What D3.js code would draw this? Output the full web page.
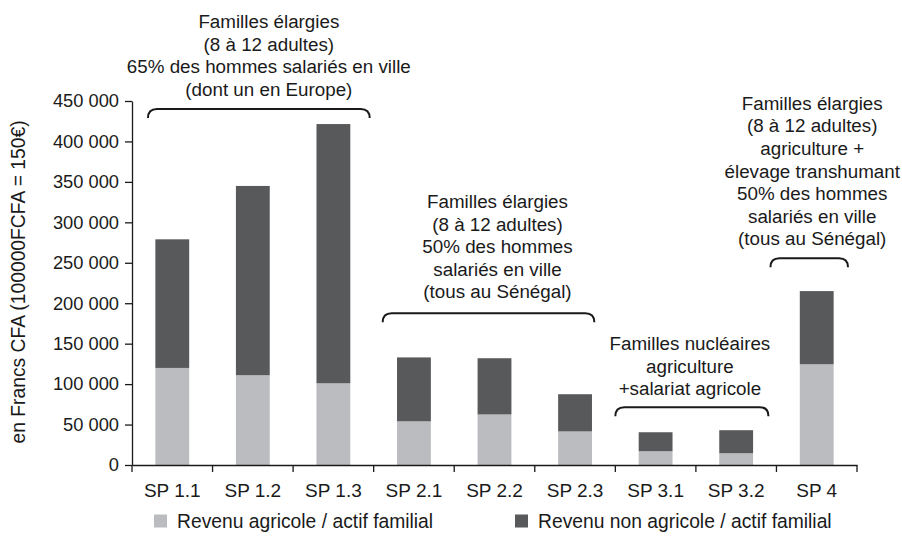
<!DOCTYPE html>
<html>
<head>
<meta charset="utf-8">
<script src="https://cdn.jsdelivr.net/npm/d3@7"></script>
<style>
    body { margin: 0; background: #fff; }
    text { font-family: "Liberation Sans", Arial, sans-serif; fill: #1a1a1a; }
    .axis path, .axis line { stroke: #1a1a1a; stroke-width: 1.3; }
    .y-axis text { font-size: 18.3px; }
    .x-axis text { font-size: 19px; }
</style>
</head>
<body>
<svg id="chart" width="902" height="540"></svg>
<script>
// categories and values (francs CFA per family worker)
var categories = ["SP 1.1", "SP 1.2", "SP 1.3", "SP 2.1", "SP 2.2", "SP 2.3", "SP 3.1", "SP 3.2", "SP 4"];
var agricole = [120000, 111000, 101000, 54000, 62500, 41500, 17000, 14500, 124500];
var nonAgricole = [159000, 234000, 320500, 79000, 69500, 46000, 23500, 28500, 90500];
var yTicks = [0, 50000, 100000, 150000, 200000, 250000, 300000, 350000, 400000, 450000];
var seriesNames = ["Revenu agricole / actif familial", "Revenu non agricole / actif familial"];
var seriesColors = ["#bbbcbf", "#58595b"];

// annotation groups: first/last category, bracket level (value), text lines
var groupFirst = ["SP 1.1", "SP 2.1", "SP 3.1", "SP 4"];
var groupLast = ["SP 1.3", "SP 2.3", "SP 3.2", "SP 4"];
var groupLevel = [440000, 187500, 71500, 255500];
var groupLines = [
    ["Familles élargies", "(8 à 12 adultes)", "65% des hommes salariés en ville", "(dont un en Europe)"],
    ["Familles élargies", "(8 à 12 adultes)", "50% des hommes", "salariés en ville", "(tous au Sénégal)"],
    ["Familles nucléaires", "agriculture", "+salariat agricole"],
    ["Familles élargies", "(8 à 12 adultes)", "agriculture +", "élevage transhumant", "50% des hommes", "salariés en ville", "(tous au Sénégal)"]
];

var svg = d3.select("#chart");
var margin = {top: 101, right: 45, bottom: 75, left: 132};
var width = 902 - margin.left - margin.right,
    height = 540 - margin.top - margin.bottom;

var x = d3.scaleBand().domain(categories).range([margin.left, margin.left + width])
    .paddingInner(0.58).paddingOuter(0.29);
var y = d3.scaleLinear().domain([0, 450000]).range([margin.top + height, margin.top]);

var rows = categories.map(function (c, i) {
    return {cat: c, agricole: agricole[i], nonAgricole: nonAgricole[i]};
});
var stack = d3.stack().keys(["agricole", "nonAgricole"])(rows);

// bars
svg.append("g").selectAll("g")
    .data(stack)
    .join("g")
    .attr("fill", function (d, i) { return seriesColors[i]; })
    .selectAll("rect")
    .data(function (d) { return d; })
    .join("rect")
    .attr("x", function (d) { return x(d.data.cat); })
    .attr("y", function (d) { return y(d[1]); })
    .attr("width", x.bandwidth())
    .attr("height", function (d) { return y(d[0]) - y(d[1]); });

// y axis
var fmt = d3.format(",");
svg.append("g").attr("class", "axis y-axis")
    .attr("transform", "translate(" + margin.left + ",0)")
    .call(d3.axisLeft(y).tickValues(yTicks).tickSize(7).tickSizeOuter(0).tickPadding(6)
        .tickFormat(function (d) { return fmt(d).replace(/,/g, " "); }));

// x axis (labels), ticks at band boundaries
var xAxis = svg.append("g").attr("class", "axis x-axis")
    .attr("transform", "translate(0," + (margin.top + height) + ")")
    .call(d3.axisBottom(x).tickSize(0).tickSizeOuter(0).tickPadding(19));
var step = x.step();
xAxis.selectAll(".bound")
    .data(d3.range(categories.length + 1))
    .join("line")
    .attr("class", "bound")
    .attr("x1", function (i) { return margin.left + i * step; })
    .attr("x2", function (i) { return margin.left + i * step; })
    .attr("y1", 0)
    .attr("y2", 7);

// y axis title
svg.append("text")
    .attr("transform", "translate(25," + (margin.top + height / 2 - 1) + ") rotate(-90)")
    .attr("text-anchor", "middle")
    .style("font-size", "19.3px")
    .text("en Francs CFA (100000FCFA = 150€)");

// brackets + annotations
var bracketPad = [[16, -4], [9, -21], [0, -8], [-6, -9]];
var textShift = [10, 9, -2, 3];
var textGap = [13, 15, 12, 13];
var lineH = 22.6;
groupFirst.forEach(function (f, g) {
    var x0 = x(f) - x.step() * x.paddingInner() / 2 + bracketPad[g][0];
    var x1 = x(groupLast[g]) + x.bandwidth() + x.step() * x.paddingInner() / 2 + bracketPad[g][1];
    var yt = y(groupLevel[g]), yb = yt + 9, r = 9;
    svg.append("path")
        .attr("d", "M" + x0 + "," + yb + " Q" + x0 + "," + yt + " " + (x0 + r) + "," + yt +
            " L" + (x1 - r) + "," + yt + " Q" + x1 + "," + yt + " " + x1 + "," + yb)
        .attr("fill", "none")
        .attr("stroke", "#1a1a1a")
        .attr("stroke-width", 2);
    var lines = groupLines[g];
    var cx = (x0 + x1) / 2 + textShift[g];
    svg.append("text")
        .attr("text-anchor", "middle")
        .style("font-size", "18.8px")
        .selectAll("tspan")
        .data(lines)
        .join("tspan")
        .attr("x", cx)
        .attr("y", function (d, i) { return yt - textGap[g] - (lines.length - 1 - i) * lineH; })
        .text(function (d) { return d; });
});

// legend
var legendX = [154, 515];
var legend = svg.append("g").selectAll("g")
    .data(seriesNames)
    .join("g")
    .attr("transform", function (d, i) { return "translate(" + legendX[i] + ",521)"; });
legend.append("rect")
    .attr("width", 13).attr("height", 13).attr("y", -6.5)
    .attr("fill", function (d, i) { return seriesColors[i]; });
legend.append("text")
    .attr("x", 23).attr("dy", "0.35em")
    .style("font-size", "19.3px")
    .text(function (d) { return d; });
</script>
</body>
</html>
